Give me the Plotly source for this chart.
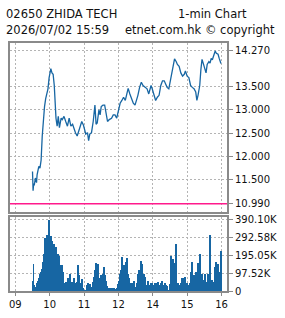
import plotly.graph_objects as go

# ---------------- data ----------------
title_code = "02650 ZHIDA TECH"
title_kind = "1-min Chart"
stamp = "2026/07/02 15:59"
source = "etnet.com.hk © copyright"

prev_close = 10.99

price_times = [
    "09:30", "09:31", "09:32", "09:33", "09:35", "09:37", "09:38", "09:41", "09:43", "09:45",
    "09:47", "09:49", "09:51", "09:53", "09:55", "09:57", "09:59", "10:01", "10:02", "10:04",
    "10:06", "10:08", "10:09", "10:11", "10:13", "10:15", "10:17", "10:20", "10:22", "10:25",
    "10:28", "10:31", "10:34", "10:37", "10:40", "10:43", "10:45", "10:48", "10:51", "10:54",
    "10:56", "10:59", "11:01", "11:03", "11:06", "11:08", "11:10", "11:13", "11:16", "11:19",
    "11:21", "11:23", "11:26", "11:28", "11:30", "11:33", "11:36", "11:38", "11:41", "11:44",
    "11:48", "11:51", "11:54", "11:57", "11:59",
    "13:01", "13:03", "13:06", "13:09", "13:12", "13:14", "13:17", "13:20", "13:23", "13:26",
    "13:29", "13:31", "13:34", "13:37", "13:40", "13:43", "13:46", "13:50", "13:53", "13:57",
    "13:59", "14:02", "14:05", "14:08", "14:11", "14:14", "14:17", "14:20", "14:22", "14:25",
    "14:28", "14:31", "14:34", "14:36", "14:38", "14:41", "14:43", "14:46", "14:49", "14:52",
    "14:55", "14:57", "15:00", "15:03", "15:06", "15:09", "15:12", "15:15", "15:17", "15:19",
    "15:22", "15:24", "15:26", "15:28", "15:31", "15:33", "15:35", "15:38", "15:40", "15:42",
    "15:44", "15:47", "15:49", "15:51", "15:54", "15:56", "15:58", "15:59",
]
price_values = [
    11.68, 11.27, 11.42, 11.38, 11.54, 11.44, 11.61, 11.79, 11.75, 11.92,
    12.44, 12.82, 13.07, 13.24, 13.34, 13.45, 13.69, 13.79, 13.88, 13.79,
    13.76, 13.52, 13.14, 12.82, 12.65, 12.86, 12.62, 12.82, 12.79, 12.86,
    12.75, 12.65, 12.82, 12.65, 12.69, 12.55, 12.51, 12.44, 12.55, 12.69,
    12.75, 12.67, 12.58, 12.48, 12.51, 12.34, 12.48, 12.51, 12.75, 13.10,
    12.69, 12.72, 13.00, 12.89, 13.07, 13.10, 13.10, 12.93, 12.75, 12.79,
    12.82, 12.89, 12.89, 12.82, 12.93,
    13.00, 13.14, 13.20, 13.27, 13.20, 13.31, 13.46, 13.34, 13.24, 13.14,
    13.10, 13.17, 13.31, 13.48, 13.59, 13.52, 13.48, 13.45, 13.34, 13.52,
    13.45, 13.34, 13.20, 13.27, 13.31, 13.52, 13.62, 13.62, 13.55, 13.48,
    13.45, 13.62, 13.83, 13.97, 14.09, 14.03, 13.97, 13.93, 13.79, 13.72,
    13.76, 13.83, 13.72, 13.69, 13.52, 13.48, 13.45, 13.38, 13.20, 13.31,
    13.52, 13.86, 14.08, 14.00, 13.90, 13.79, 13.97, 14.03, 14.00, 14.10,
    14.07, 14.17, 14.26, 14.21, 14.19, 14.10, 14.00, 13.99,
]

# volume readings (thousands of shares), evenly sampled from 09:30 to 15:59
vol_start = "09:30"
vol_end = "15:59"
volume_k = [
    58.5, 150.7, 35.5, 23.1, 12.4, 44.3, 58.5, 70.9, 94.0, 106.4,
    124.1, 159.6, 203.9, 292.6, 212.8, 306.8, 260.7, 390.1, 283.7, 301.4,
    274.8, 230.5, 257.1, 203.9, 242.9, 186.2, 203.9, 195.1, 141.9, 97.5,
    141.9, 106.4, 44.3, 26.6, 53.2, 35.5, 70.9, 44.3, 97.5, 35.5,
    53.2, 26.6, 70.9, 44.3, 35.5, 53.2, 141.9, 88.7, 44.3, 26.6,
    65.6, 17.7, 8.9, 5.3, 8.9, 35.5, 44.3, 30.1, 40.8, 23.1,
    17.7, 53.2, 79.8, 115.3, 154.3, 62.1, 150.7, 70.9, 47.9, 88.7,
    58.5, 94.0, 133.0, 88.7, 65.6, 58.5, 26.6, 17.7, 5.3, 17.7,
    12.4, 17.7, 5.3, 17.7, 8.9, 12.4, 17.7, 40.8, 58.5, 97.5,
    115.3, 189.7, 124.1, 141.9, 88.7, 159.6, 182.6, 97.5, 70.9, 44.3,
    35.5, 44.3, 30.1, 58.5, 23.1, 17.7, 44.3, 94.0, 118.8, 97.5,
    168.5, 147.2, 70.9, 97.5, 76.2, 35.5, 30.1, 58.5, 35.5, 23.1,
    44.3, 47.9, 17.7, 35.5, 44.3, 30.1, 44.3, 53.2, 23.1, 35.5,
    44.3, 58.5, 35.5, 30.1, 44.3, 35.5, 30.1, 5.3, 5.3, 40.8,
    195.1, 115.3, 177.3, 88.7, 154.3, 257.1, 44.3, 35.5, 44.3, 26.6,
    35.5, 44.3, 70.9, 53.2, 70.9, 79.8, 35.5, 44.3, 35.5, 26.6,
    44.3, 106.4, 159.6, 62.1, 88.7, 53.2, 106.4, 97.5, 154.3, 106.4,
    207.5, 88.7, 97.5, 44.3, 62.1, 97.5, 53.2, 35.5, 94.0, 53.2,
    310.3, 35.5, 62.1, 53.2, 35.5, 133.0, 159.6, 79.8, 150.7, 70.9,
    106.4, 221.7,
]

price_ticks = [14.27, 13.5, 13.0, 12.5, 12.0, 11.5, 10.99]
vol_ticks_k = [0, 97.52, 195.05, 292.58, 390.10]
vol_tick_text = ["0", "97.52K", "195.05K", "292.58K", "390.10K"]
hour_ticks = ["09:00", "10:00", "11:00", "12:00", "14:00", "15:00", "16:00"]
hour_labels = ["09", "10", "11", "12", "14", "15", "16"]


# session minute index: 09:00 -> 0, lunch break (12:00-13:00) collapsed
def session_minute(t):
    h, m = map(int, t.split(":"))
    total = h * 60 + m
    if total >= 13 * 60:
        total -= 60
    return total - 9 * 60


px = [session_minute(t) for t in price_times]
v0, v1 = session_minute(vol_start), session_minute(vol_end)
n = len(volume_k)
step = (v1 - v0) / (n - 1)
vx = [v0 + i * step for i in range(n)]
hx = [session_minute(t) for t in hour_ticks]

BLUE = "#1766a3"
GRID = "#b4b4b4"
FRAME = "#8a8a8a"
FONT = "DejaVu Sans"

fig = go.Figure()
fig.add_trace(go.Scatter(x=px, y=price_values, mode="lines",
                         line=dict(color=BLUE, width=1.3),
                         xaxis="x", yaxis="y", hoverinfo="skip"))
fig.add_trace(go.Bar(x=vx, y=volume_k, width=step, marker=dict(color=BLUE, line=dict(width=0)),
                     xaxis="x2", yaxis="y2", hoverinfo="skip"))

xr = [-9.3, 369.6]
common_x = dict(range=xr, tickmode="array", tickvals=hx, showgrid=True,
                gridcolor=GRID, griddash="2px,2px", gridwidth=1,
                showline=True, linecolor=FRAME, linewidth=2, mirror=True,
                zeroline=False, fixedrange=True)
common_y = dict(side="right", showgrid=True, gridcolor=GRID, griddash="2px,2px", gridwidth=1,
                showline=True, linecolor=FRAME, linewidth=2, mirror=True,
                zeroline=False, ticks="outside", ticklen=4, tickcolor=FRAME, tickwidth=1,
                tickfont=dict(family=FONT, size=10, color="#111"), fixedrange=True)

W, H = 285, 318
ML, MR, MT, MB = 8, 56, 43, 20
pw, ph = W - ML - MR, H - MT - MB


def ann(text, x_px, y_px, anchor):
    return dict(text=text, x=(x_px - ML) / pw, y=(H - MB - y_px) / ph,
                xref="paper", yref="paper", showarrow=False,
                xanchor=anchor, yanchor="middle",
                font=dict(family=FONT, size=11.5, color="#111"))


fig.update_layout(
    width=W, height=H,
    margin=dict(l=ML, r=MR, t=MT, b=MB),
    paper_bgcolor="white", plot_bgcolor="white",
    showlegend=False, bargap=0,
    xaxis=dict(**common_x, domain=[0, 1], anchor="y", showticklabels=False),
    yaxis=dict(**common_y, domain=[0.319, 1], anchor="x", range=[10.815, 14.43],
               tickvals=price_ticks, ticktext=[f"{v:.3f}" for v in price_ticks]),
    xaxis2=dict(**common_x, domain=[0, 1], anchor="y2", ticktext=hour_labels,
                ticks="outside", ticklen=3, tickcolor=FRAME,
                tickfont=dict(family=FONT, size=10, color="#111")),
    yaxis2=dict(**common_y, domain=[0, 0.2997], anchor="x2", range=[0, 407.7],
                tickvals=vol_ticks_k, ticktext=vol_tick_text),
    shapes=[dict(type="line", xref="x domain", yref="y", x0=0, x1=1,
                 y0=prev_close, y1=prev_close, line=dict(color="#ff1a8c", width=1.5))],
    annotations=[
        ann(title_code, 2, 13, "left"),
        ann(title_kind, 251, 13, "right"),
        ann(stamp, 2, 30, "left"),
        ann(source, 280, 30, "right"),
    ],
)

fig.write_html("out.html", config={"displayModeBar": False})
